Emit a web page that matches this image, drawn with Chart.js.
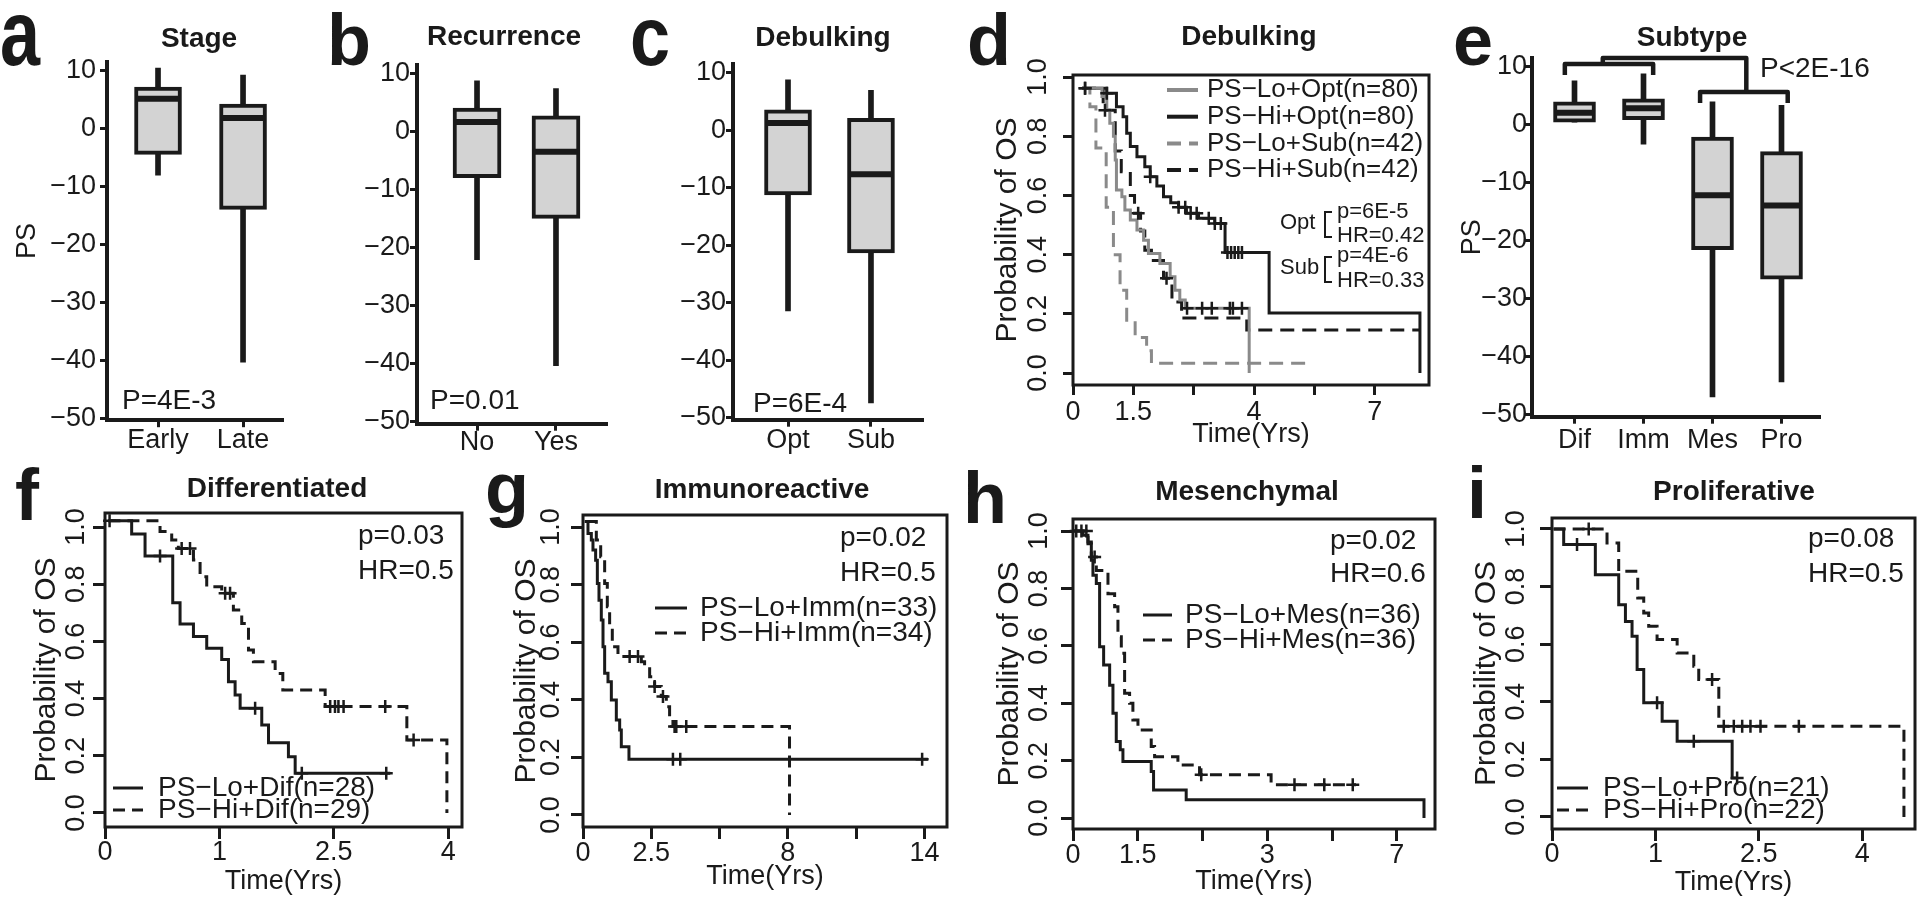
<!DOCTYPE html>
<html>
<head>
<meta charset="utf-8">
<title>PS score panels</title>
<script src="https://cdn.jsdelivr.net/npm/chart.js@4.4.1/dist/chart.umd.min.js"></script>
<style>
  html, body { margin: 0; padding: 0; background: #fff; }
  body { position: relative; width: 1920px; height: 912px; overflow: hidden;
         font-family: "Liberation Sans", Arial, Helvetica, sans-serif; color: #1a1a1a; }
  canvas { position: absolute; }
  .t { position: absolute; white-space: nowrap; line-height: 1; }
  .letter { font-weight: bold; font-size: 72px; transform-origin: 0 61px; }
  .title { font-weight: bold; font-size: 28px; transform: translate(-50%, -50%); }
  .note { font-size: 28px; transform: translateY(-50%); }
  .small { font-size: 22px; transform: translateY(-50%); }
  .brk { position: absolute; border: 2px solid #1a1a1a; border-right: none; width: 6px; height: 23px; }
</style>
</head>
<body>
<script>
const FONT = '"Liberation Sans", Arial, Helvetica, sans-serif';
const INK = '#1a1a1a';
const GRAY = '#8a8a8a';
const BOX_FILL = '#d3d3d3';
Chart.defaults.font.family = FONT;
Chart.defaults.color = INK;

// ---------- a, b, c, e: PS boxplots ----------
const psTicks = [10, 0, -10, -20, -30, -40, -50];

const stageCats = ['Early', 'Late'];
const stageLow = [-8, -40.3];
const stageQ1 = [-4.4, -13.9];
const stageMed = [5.2, 1.9];
const stageQ3 = [7.2, 4.3];
const stageHigh = [10.5, 9.3];

const recurCats = ['No', 'Yes'];
const recurLow = [-22, -40.3];
const recurQ1 = [-7.9, -14.9];
const recurMed = [1.7, -3.4];
const recurQ3 = [4.1, 2.8];
const recurHigh = [8.8, 7.5];

const debulkCats = ['Opt', 'Sub'];
const debulkLow = [-31.4, -47.4];
const debulkQ1 = [-11.2, -21.3];
const debulkMed = [1.3, -7.6];
const debulkQ3 = [3.6, 2.1];
const debulkHigh = [8.8, 7.0];

const subCats = ['Dif', 'Imm', 'Mes', 'Pro'];
const subLow = [0.5, -3.3, -46.9, -44.3];
const subQ1 = [0.5, 0.9, -21.5, -26.6];
const subMed = [2.1, 2.9, -12.1, -13.9];
const subQ3 = [4.0, 4.5, -2.1, -4.6];
const subHigh = [7.6, 8.8, 4.0, 3.4];
// comparison brackets (category position, PS)
const subBrackets = [
  [[0.86, 8.6], [0.86, 10.5], [2.14, 10.5], [2.14, 8.6]],
  [[2.82, 3.8], [2.82, 5.7], [4.09, 5.7], [4.09, 3.8]],
  [[1.41, 10.5], [1.41, 11.55], [3.49, 11.55], [3.49, 5.7]]
];

// ---------- d, f-i: Kaplan-Meier curves ----------
const probTicks = [0, 0.2, 0.4, 0.6, 0.8, 1.0];

// d: Debulking
const dTimeLabels = ['0', '1.5', '', '4', '', '7'];
const dLoOptT = [0.15, 0.48, 0.56, 0.61, 0.67, 0.70, 0.72, 0.81, 0.86, 0.95, 1.06, 1.17, 1.25, 1.44, 1.61, 1.69, 1.77, 1.86, 2.92];
const dLoOptS = [0.962, 0.934, 0.889, 0.844, 0.80, 0.72, 0.618, 0.596, 0.551, 0.517, 0.483, 0.449, 0.404, 0.37, 0.325, 0.28, 0.247, 0.219, 0];
const dLoOptC = [0.2, 1.89, 2.14, 2.3, 2.6, 2.65, 2.8];
const dHiOptT = [0.15, 0.56, 0.72, 0.83, 0.89, 0.95, 1.06, 1.19, 1.28, 1.39, 1.50, 1.62, 1.75, 1.88, 2.08, 2.35, 2.52, 3.25, 5.75];
const dHiOptS = [0.962, 0.945, 0.90, 0.866, 0.81, 0.765, 0.731, 0.697, 0.663, 0.632, 0.596, 0.575, 0.56, 0.54, 0.523, 0.505, 0.407, 0.203, 0];
const dHiOptC = [0.2, 0.56, 1.28, 1.75, 1.86, 1.95, 2.05, 2.25, 2.35, 2.45, 2.56, 2.62, 2.68, 2.74, 2.8];
const dLoSubT = [0.15, 0.28, 0.38, 0.55, 0.67, 0.78, 0.89, 1.03, 1.22, 1.30, 3.96];
const dLoSubS = [0.962, 0.90, 0.76, 0.56, 0.40, 0.28, 0.17, 0.12, 0.075, 0.033, 0.033];
const dLoSubC = [];
const dHiSubT = [0.15, 0.50, 0.70, 0.80, 0.95, 1.02, 1.12, 1.19, 1.30, 1.50, 1.64, 1.80, 2.88, 5.75];
const dHiSubS = [0.962, 0.888, 0.75, 0.68, 0.60, 0.54, 0.48, 0.415, 0.38, 0.32, 0.24, 0.186, 0.145, 0.145];
const dHiSubC = [0.53, 1.08, 1.55];

// f: Differentiated
const fTimeLabels = ['0', '1', '2.5', '4'];
const fLoT = [0.03, 0.233, 0.35, 0.592, 0.656, 0.773, 0.889, 1.02, 1.079, 1.137, 1.181, 1.37, 1.429, 1.603, 1.662, 2.493];
const fLoS = [1.022, 0.976, 0.899, 0.735, 0.661, 0.617, 0.576, 0.537, 0.459, 0.413, 0.366, 0.308, 0.246, 0.197, 0.139, 0.139];
const fLoC = [0.04, 0.481, 1.312, 1.72, 2.458];
const fHiT = [0.03, 0.481, 0.583, 0.641, 0.773, 0.831, 0.889, 1.02, 1.122, 1.195, 1.254, 1.297, 1.487, 1.554, 1.924, 2.638, 2.988];
const fHiS = [1.022, 0.984, 0.955, 0.925, 0.885, 0.826, 0.791, 0.768, 0.71, 0.663, 0.57, 0.529, 0.488, 0.43, 0.372, 0.255, 0];
const fHiC = [0.67, 0.743, 1.05, 1.093, 1.968, 2.01, 2.04, 2.085, 2.449, 2.697];

// g: Immunoreactive
const gTimeLabels = ['0', '2.5', '', '8', '', '14'];
const gLoT = [0.024, 0.073, 0.122, 0.146, 0.185, 0.21, 0.234, 0.268, 0.293, 0.317, 0.366, 0.415, 0.488, 0.537, 0.561, 0.673, 5.05];
const gLoS = [1.019, 0.978, 0.955, 0.92, 0.885, 0.804, 0.746, 0.677, 0.584, 0.492, 0.463, 0.399, 0.33, 0.295, 0.237, 0.193, 0.193];
const gLoC = [1.317, 1.424, 4.966];
const gHiT = [0.049, 0.195, 0.259, 0.317, 0.356, 0.39, 0.429, 0.512, 0.854, 0.902, 0.976, 1.049, 1.146, 1.22, 1.268, 1.317, 3.024];
const gHiS = [1.019, 0.955, 0.897, 0.804, 0.723, 0.642, 0.584, 0.55, 0.532, 0.515, 0.48, 0.446, 0.411, 0.376, 0.336, 0.307, 0];
const gHiC = [0.683, 0.805, 1.049, 1.171, 1.341, 1.366, 1.512];

// h: Mesenchymal
const hTimeLabels = ['0', '1.5', '', '3', '', '7'];
const hLoT = [0.01, 0.154, 0.231, 0.283, 0.308, 0.36, 0.411, 0.473, 0.566, 0.617, 0.668, 0.73, 0.771, 1.208, 1.244, 1.748, 5.42];
const hLoS = [1.0, 0.985, 0.956, 0.898, 0.846, 0.817, 0.597, 0.533, 0.463, 0.365, 0.267, 0.238, 0.197, 0.162, 0.098, 0.064, 0];
const hLoC = [0.05, 0.13];
const hHiT = [0.01, 0.231, 0.283, 0.36, 0.54, 0.643, 0.694, 0.746, 0.797, 0.874, 0.925, 1.003, 1.208, 1.26, 1.62, 1.954, 3.059, 4.37];
const hHiS = [1.0, 0.962, 0.91, 0.863, 0.782, 0.736, 0.632, 0.574, 0.435, 0.40, 0.342, 0.307, 0.249, 0.214, 0.185, 0.151, 0.116, 0.116];
const hHiC = [0.206, 0.334, 1.98, 3.42, 3.88, 4.32];

// i: Proliferative
const iTimeLabels = ['0', '1', '2.5', '4'];
const iLoT = [0.016, 0.113, 0.419, 0.645, 0.71, 0.774, 0.823, 0.887, 1.065, 1.21, 1.742, 1.79];
const iLoS = [1.0, 0.946, 0.841, 0.737, 0.679, 0.627, 0.512, 0.396, 0.332, 0.263, 0.135, 0.135];
const iLoC = [0.242, 1.016, 1.371, 1.79];
const iHiT = [0.016, 0.532, 0.645, 0.829, 0.887, 0.935, 1.016, 1.21, 1.371, 1.419, 1.613, 3.403];
const iHiS = [1.0, 0.951, 0.853, 0.76, 0.708, 0.662, 0.616, 0.569, 0.523, 0.477, 0.315, 0];
const iHiC = [0.355, 1.548, 1.661, 1.758, 1.839, 1.919, 2.016, 2.387];

// ---------- helpers ----------
function minus(v) { return v < 0 ? '\u2212' + Math.abs(v) : String(v); }

function survAt(ts, ss, c) {
  let v = ss[0];
  for (let i = 0; i < ts.length; i++) if (ts[i] <= c) v = ss[i];
  return v;
}

// canvas placed so that the plot area lands on `area` (page px)
function place(area, yW, xH, padT, padR) {
  const left = Math.floor(area[0] - yW), top = Math.floor(area[1] - padT);
  const w = Math.ceil(area[2] + padR) - left, h = Math.ceil(area[3] + xH) - top;
  const cv = document.createElement('canvas');
  cv.width = w; cv.height = h;
  Object.assign(cv.style, { left: left + 'px', top: top + 'px', width: w + 'px', height: h + 'px' });
  document.body.appendChild(cv);
  const pad = { left: area[0] - yW - left, top: area[1] - top, right: left + w - area[2], bottom: top + h - area[3] - xH };
  return { cv, pad };
}

function addText(txt, x, y, cls) {
  const d = document.createElement('div');
  d.className = 't ' + cls;
  d.textContent = txt;
  d.style.left = x + 'px'; d.style.top = y + 'px';
  document.body.appendChild(d);
  return d;
}

// ---------- boxplots ----------
function drawBox(p) {
  const xH = 45;
  const { cv, pad } = place(p.area, p.yW, xH, 30, 30);
  const pos = p.cats.map((c, i) => i + 1);
  new Chart(cv, {
    type: 'bar',
    data: {
      datasets: [
        { label: 'IQR', data: pos.map((x, i) => ({ x, y: [p.q1[i], p.q3[i]] })),
          backgroundColor: BOX_FILL, borderColor: INK, borderWidth: 4, borderSkipped: false,
          barThickness: p.boxW, grouped: false, order: 1 },
        { label: 'range', data: pos.map((x, i) => ({ x, y: [p.low[i], p.high[i]] })),
          backgroundColor: INK, borderWidth: 0, barThickness: 5, grouped: false, order: 2 }
      ]
    },
    options: {
      animation: false, responsive: false, events: [],
      layout: { padding: pad },
      plugins: { legend: { display: false }, tooltip: { enabled: false } },
      scales: {
        x: {
          type: 'linear', min: p.xMin, max: p.xMax, offset: false,
          afterBuildTicks: s => { s.ticks = pos.map(v => ({ value: v })); },
          afterFit: s => { s.height = xH; },
          ticks: { callback: v => p.cats[Math.round(v) - 1] || '', autoSkip: false, maxRotation: 0,
                   font: { size: 27 }, color: INK, padding: p.xPad },
          grid: { display: true, drawOnChartArea: false, drawTicks: true, tickLength: 7, tickWidth: 3, color: INK, offset: false },
          border: { display: true, width: 4, color: INK }
        },
        y: {
          min: -50.3, max: 11.6,
          afterBuildTicks: s => { s.ticks = psTicks.map(v => ({ value: v })); },
          afterFit: s => { s.width = p.yW; },
          ticks: { callback: v => minus(v), font: { size: 27 }, color: INK, padding: p.yPad },
          grid: { display: true, drawOnChartArea: false, drawTicks: true, tickLength: 7, tickWidth: 3, color: INK },
          border: { display: true, width: 4, color: INK },
          title: { display: !!p.yTitle, text: p.yTitle || '', font: { size: 27, lineHeight: 1 }, color: INK, padding: 0 }
        }
      }
    },
    plugins: [{
      id: 'medians',
      afterDatasetsDraw(chart) {
        const meta = chart.getDatasetMeta(0), xs = chart.scales.x, ys = chart.scales.y, c = chart.ctx;
        c.save();
        c.strokeStyle = INK; c.lineWidth = 6;
        meta.data.forEach((bar, i) => {
          const y = ys.getPixelForValue(p.med[i]);
          c.beginPath(); c.moveTo(bar.x - bar.width / 2 + 2, y); c.lineTo(bar.x + bar.width / 2 - 2, y); c.stroke();
        });
        c.lineWidth = 4.5; c.lineJoin = 'round';
        (p.brackets || []).forEach(b => {
          c.beginPath();
          b.forEach(([u, v], k) => {
            const X = xs.getPixelForValue(u), Y = ys.getPixelForValue(v);
            if (k === 0) c.moveTo(X, Y); else c.lineTo(X, Y);
          });
          c.stroke();
        });
        c.restore();
      }
    }]
  });
}

drawBox({ cats: stageCats, low: stageLow, q1: stageQ1, med: stageMed, q3: stageQ3, high: stageHigh,
  area: [107, 61.7, 283, 420.2], xMin: 0.4, xMax: 2.47, boxW: 47, yW: 92.5, yTitle: 'PS', yPad: 4, xPad: -3 });
drawBox({ cats: recurCats, low: recurLow, q1: recurQ1, med: recurMed, q3: recurQ3, high: recurHigh,
  area: [417, 64.7, 607, 423.7], xMin: 0.24, xMax: 2.646, boxW: 48, yW: 72, yPad: 0, xPad: -4 });
drawBox({ cats: debulkCats, low: debulkLow, q1: debulkQ1, med: debulkMed, q3: debulkQ3, high: debulkHigh,
  area: [733, 63.8, 923, 419.7], xMin: 0.337, xMax: 2.627, boxW: 47, yW: 72, yPad: 0, xPad: -2 });
drawBox({ cats: subCats, low: subLow, q1: subQ1, med: subMed, q3: subQ3, high: subHigh, brackets: subBrackets,
  area: [1532, 57.7, 1820, 416.7], xMin: 0.384, xMax: 4.558, boxW: 42, yW: 72.5, yTitle: 'PS', yPad: -2, xPad: 1 });

// ---------- survival curves ----------
function drawKM(p) {
  const xH = p.xTitleY + 13.5 - p.area[3];
  const { cv, pad } = place(p.area, p.yW, xH, 30, 30);
  const lines = p.curves.map(c => ({
    label: c.label,
    data: c.t.map((t, i) => ({ x: t, y: c.s[i] })),
    stepped: 'before', borderColor: c.color, borderWidth: 3, borderDash: c.dash ? p.dash : [],
    borderCapStyle: 'butt', pointRadius: 0, fill: false, tension: 0, order: 2, clip: false
  }));
  const marks = p.curves.map(c => ({
    label: c.label + ' censored',
    data: c.cens.map(t => ({ x: t, y: survAt(c.t, c.s, t) })),
    showLine: false, pointStyle: 'cross', pointRadius: 6.5, pointBorderWidth: 2.5,
    pointBorderColor: c.mark, pointBackgroundColor: c.mark, borderColor: c.mark, order: 1, clip: false
  }));
  const L = p.legend;
  new Chart(cv, {
    type: 'line',
    data: { datasets: lines.concat(marks) },
    options: {
      animation: false, responsive: false, events: [],
      layout: { padding: pad },
      plugins: { legend: { display: false }, tooltip: { enabled: false } },
      scales: {
        x: {
          type: 'linear', min: 0, max: p.xMax, offset: false,
          afterBuildTicks: s => { s.ticks = p.xLabels.map((l, i) => ({ value: i })); },
          afterFit: s => { s.height = xH; },
          ticks: { callback: v => p.xLabels[Math.round(v)] || '', autoSkip: false, maxRotation: 0,
                   font: { size: 27 }, color: INK, padding: p.xPad },
          grid: { display: true, drawOnChartArea: false, drawTicks: true, tickLength: p.tl, tickWidth: 3, color: INK },
          border: { display: false },
          title: { display: true, text: 'Time(Yrs)', font: { size: 27, lineHeight: 1 }, color: INK, padding: 0 }
        },
        y: {
          type: 'linear', min: p.yMin, max: p.yMax,
          afterBuildTicks: s => { s.ticks = probTicks.map(v => ({ value: v })); },
          afterFit: s => { s.width = p.yW; },
          ticks: { callback: v => v.toFixed(1), minRotation: 90, maxRotation: 90, crossAlign: 'center',
                   font: { size: 27 }, color: INK, padding: p.yPad },
          grid: { display: true, drawOnChartArea: false, drawTicks: true, tickLength: p.tl, tickWidth: 3, color: INK },
          border: { display: false },
          title: { display: true, text: 'Probability of OS', font: { size: 30, lineHeight: 1 }, color: INK, padding: 0 }
        }
      }
    },
    plugins: [{
      id: 'frameAndKey',
      afterDraw(chart) {
        const a = chart.chartArea, c = chart.ctx;
        c.save();
        c.strokeStyle = INK; c.lineWidth = 3;
        c.strokeRect(a.left, a.top, a.right - a.left, a.bottom - a.top);
        c.font = L.size + 'px ' + FONT; c.textBaseline = 'middle'; c.fillStyle = INK;
        p.curves.forEach((cur, k) => {
          const y = a.top + L.dy + k * L.gap;
          c.strokeStyle = cur.color; c.lineWidth = L.lw; c.setLineDash(cur.dash ? p.dash : []);
          c.beginPath(); c.moveTo(a.left + L.dx, y); c.lineTo(a.left + L.dx + L.len, y); c.stroke();
          c.setLineDash([]);
          c.fillText(cur.label, a.left + L.tx, y);
        });
        c.restore();
      }
    }]
  });
}

drawKM({
  area: [1073, 75, 1429, 385], yMin: -0.0405, yMax: 1.007, xMax: 5.9, xLabels: dTimeLabels,
  yW: 80, yPad: 6, tl: 10, xPad: 1, xTitleY: 435, dash: [14, 8],
  legend: { dx: 94, len: 31, tx: 134, dy: 15, gap: 26.7, size: 26, lw: 4 },
  curves: [
    { label: 'PS\u2212Lo+Opt(n=80)', t: dLoOptT, s: dLoOptS, cens: dLoOptC, color: GRAY, dash: false, mark: INK },
    { label: 'PS\u2212Hi+Opt(n=80)', t: dHiOptT, s: dHiOptS, cens: dHiOptC, color: INK, dash: false, mark: INK },
    { label: 'PS\u2212Lo+Sub(n=42)', t: dLoSubT, s: dLoSubS, cens: dLoSubC, color: GRAY, dash: true, mark: GRAY },
    { label: 'PS\u2212Hi+Sub(n=42)', t: dHiSubT, s: dHiSubS, cens: dHiSubC, color: INK, dash: true, mark: INK }
  ]
});
drawKM({
  area: [105, 513, 462, 827], yMin: -0.049, yMax: 1.049, xMax: 3.12, xLabels: fTimeLabels,
  yW: 73, yPad: -2, tl: 12, xPad: -3, xTitleY: 882, dash: [12, 7],
  legend: { dx: 8, len: 30, tx: 53, dy: 275, gap: 22, size: 28, lw: 3 },
  curves: [
    { label: 'PS\u2212Lo+Dif(n=28)', t: fLoT, s: fLoS, cens: fLoC, color: INK, dash: false, mark: INK },
    { label: 'PS\u2212Hi+Dif(n=29)', t: fHiT, s: fHiS, cens: fHiC, color: INK, dash: true, mark: INK }
  ]
});
drawKM({
  area: [583, 515, 947, 827], yMin: -0.042, yMax: 1.042, xMax: 5.33, xLabels: gTimeLabels,
  yW: 71, yPad: 1, tl: 12, xPad: -2, xTitleY: 877, dash: [12, 7],
  legend: { dx: 72, len: 32, tx: 117, dy: 93, gap: 25, size: 28, lw: 3 },
  curves: [
    { label: 'PS\u2212Lo+Imm(n=33)', t: gLoT, s: gLoS, cens: gLoC, color: INK, dash: false, mark: INK },
    { label: 'PS\u2212Hi+Imm(n=34)', t: gHiT, s: gHiS, cens: gHiC, color: INK, dash: true, mark: INK }
  ]
});
drawKM({
  area: [1073, 519, 1435, 829], yMin: -0.038, yMax: 1.042, xMax: 5.59, xLabels: hTimeLabels,
  yW: 78, yPad: 3, tl: 12, xPad: -2, xTitleY: 882, dash: [12, 7],
  legend: { dx: 70, len: 29, tx: 112, dy: 96, gap: 25, size: 28, lw: 3 },
  curves: [
    { label: 'PS\u2212Lo+Mes(n=36)', t: hLoT, s: hLoS, cens: hLoC, color: INK, dash: false, mark: INK },
    { label: 'PS\u2212Hi+Mes(n=36)', t: hHiT, s: hHiS, cens: hHiC, color: INK, dash: true, mark: INK }
  ]
});
drawKM({
  area: [1552, 518, 1915, 829], yMin: -0.042, yMax: 1.038, xMax: 3.51, xLabels: iTimeLabels,
  yW: 80, yPad: 5, tl: 12, xPad: -3, xTitleY: 883, dash: [12, 7],
  legend: { dx: 5, len: 31, tx: 51, dy: 270, gap: 22, size: 28, lw: 3 },
  curves: [
    { label: 'PS\u2212Lo+Pro(n=21)', t: iLoT, s: iLoS, cens: iLoC, color: INK, dash: false, mark: INK },
    { label: 'PS\u2212Hi+Pro(n=22)', t: iHiT, s: iHiS, cens: iHiC, color: INK, dash: true, mark: INK }
  ]
});

// ---------- panel letters, titles, annotations ----------
[['a', 0, 65, 1.3], ['b', 327, 65, 1], ['c', 630, 65, 1.16], ['d', 967, 65, 1], ['e', 1453, 65, 1],
 ['f', 15, 520, 1], ['g', 485, 513, 1], ['h', 963, 523, 1], ['i', 1467, 518, 1]].forEach(([t, x, base, sy]) => {
  const d = addText(t, x, base - 61, 'letter');
  if (sy !== 1) d.style.transform = 'scaleY(' + sy + ')';
});

[['Stage', 199, 38], ['Recurrence', 504, 36], ['Debulking', 823, 37], ['Debulking', 1249, 36], ['Subtype', 1692, 37],
 ['Differentiated', 277, 488], ['Immunoreactive', 762, 489], ['Mesenchymal', 1247, 491], ['Proliferative', 1734, 491]]
  .forEach(([t, x, y]) => addText(t, x, y, 'title'));

[['P=4E-3', 122, 400], ['P=0.01', 430, 400], ['P=6E-4', 753, 403], ['P<2E-16', 1760, 68],
 ['p=0.03', 358, 535], ['HR=0.5', 358, 570], ['p=0.02', 840, 537], ['HR=0.5', 840, 572],
 ['p=0.02', 1330, 540], ['HR=0.6', 1330, 573], ['p=0.08', 1808, 538], ['HR=0.5', 1808, 573]]
  .forEach(([t, x, y]) => addText(t, x, y, 'note'));

[['Opt', 1280, 222], ['p=6E-5', 1337, 211], ['HR=0.42', 1337, 235],
 ['Sub', 1280, 267], ['p=4E-6', 1337, 255], ['HR=0.33', 1337, 280]]
  .forEach(([t, x, y]) => addText(t, x, y, 'small'));
[[1324, 211], [1324, 256]].forEach(([x, y]) => {
  const b = document.createElement('div');
  b.className = 'brk'; b.style.left = x + 'px'; b.style.top = y + 'px';
  document.body.appendChild(b);
});
</script>
</body>
</html>
